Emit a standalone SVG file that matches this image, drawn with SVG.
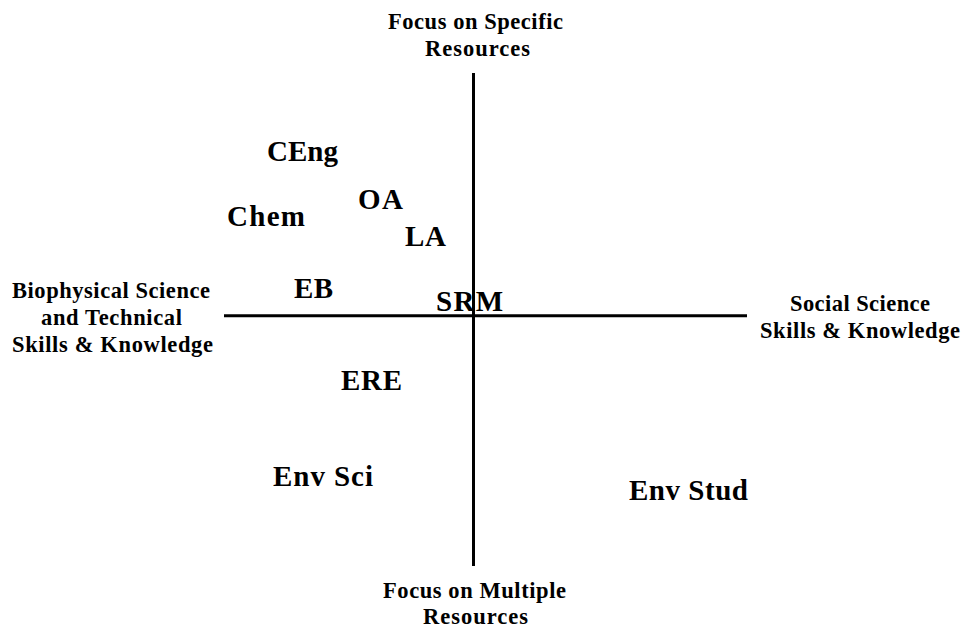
<svg xmlns="http://www.w3.org/2000/svg" width="966" height="628" viewBox="0 0 966 628">
<style>
text{font-family:"Liberation Serif","Times New Roman",serif;font-weight:bold;fill:#000}
.ax{font-size:22.5px}
.nd{font-size:29px}
.ln{stroke:#000;stroke-width:3;fill:none}
</style>
<rect width="966" height="628" fill="#fff"/>
<g id="connectors">
<line class="ln" x1="473.5" y1="73" x2="473.5" y2="566"/>
<line class="ln" x1="224" y1="315.8" x2="747" y2="315.8"/>
</g>
<g id="axis-top"><text class="ax" x="388" y="29" textLength="175" lengthAdjust="spacing">Focus on Specific</text><text class="ax" x="425" y="56" textLength="105" lengthAdjust="spacing">Resources</text></g>
<g id="axis-bottom"><text class="ax" x="383" y="598" textLength="183" lengthAdjust="spacing">Focus on Multiple</text><text class="ax" x="423" y="624" textLength="105" lengthAdjust="spacing">Resources</text></g>
<g id="axis-left"><text class="ax" x="12" y="298" textLength="198" lengthAdjust="spacing">Biophysical Science</text><text class="ax" x="41" y="325" textLength="141" lengthAdjust="spacing">and Technical</text><text class="ax" x="12" y="352" textLength="201" lengthAdjust="spacing">Skills &amp; Knowledge</text></g>
<g id="axis-right"><text class="ax" x="790" y="311" textLength="140" lengthAdjust="spacing">Social Science</text><text class="ax" x="760" y="338" textLength="200" lengthAdjust="spacing">Skills &amp; Knowledge</text></g>
<g id="CEng"><text class="nd" x="267" y="161" textLength="71" lengthAdjust="spacing">CEng</text></g>
<g id="Chem"><text class="nd" x="227" y="226" textLength="78" lengthAdjust="spacing">Chem</text></g>
<g id="OA"><text class="nd" x="358" y="209" textLength="45" lengthAdjust="spacing">OA</text></g>
<g id="LA"><text class="nd" x="405" y="246" textLength="41" lengthAdjust="spacing">LA</text></g>
<g id="EB"><text class="nd" x="294" y="298" textLength="39" lengthAdjust="spacing">EB</text></g>
<g id="SRM"><text class="nd" x="436" y="311" textLength="67" lengthAdjust="spacing">SRM</text></g>
<g id="ERE"><text class="nd" x="341" y="390" textLength="61" lengthAdjust="spacing">ERE</text></g>
<g id="EnvSci"><text class="nd" x="273" y="486" textLength="100" lengthAdjust="spacing">Env Sci</text></g>
<g id="EnvStud"><text class="nd" x="629" y="500" textLength="119" lengthAdjust="spacing">Env Stud</text></g>
</svg>
